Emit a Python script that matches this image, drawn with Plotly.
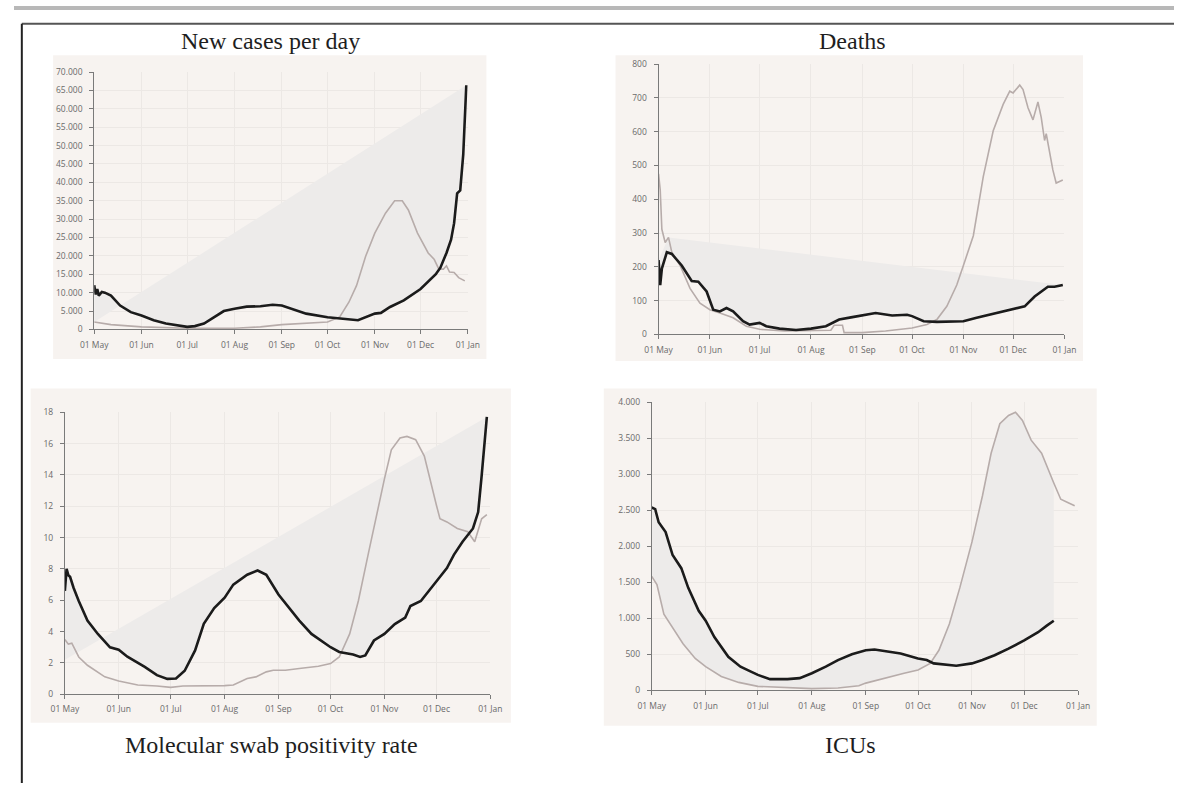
import plotly.graph_objects as go

W, H = 1186, 788

# ---------------- data ----------------
# Panel 1: New cases per day
cases_cur_dates = ["2021-05-01","2021-05-02","2021-05-03","2021-05-04","2021-05-06","2021-05-08","2021-05-12",
                   "2021-05-18","2021-05-25","2021-06-01","2021-06-09","2021-06-17","2021-07-01","2021-07-06",
                   "2021-07-12","2021-07-19","2021-07-25","2021-08-01","2021-08-09","2021-08-18","2021-08-26",
                   "2021-09-01","2021-09-09","2021-09-17","2021-10-01","2021-10-09","2021-10-17","2021-10-21",
                   "2021-11-01","2021-11-05","2021-11-11","2021-11-20","2021-12-01","2021-12-08","2021-12-11",
                   "2021-12-14","2021-12-18","2021-12-21","2021-12-23","2021-12-25","2021-12-27","2021-12-29",
                   "2021-12-31"]
cases_cur = [12000, 9500, 11000, 9200, 10200, 10000, 9200,
             6500, 4700, 3800, 2500, 1600, 700, 900,
             1600, 3400, 5000, 5600, 6200, 6300, 6700,
             6500, 5300, 4300, 3300, 2900, 2500, 2500,
             4300, 4500, 6100, 7900, 11000, 13700, 15000,
             16800, 20800, 24400, 28900, 37000, 37800, 47600,
             66400]
cases_prev_dates = ["2021-05-01","2021-05-12","2021-06-01","2021-07-01","2021-08-01","2021-08-18","2021-09-01",
                    "2021-09-17","2021-10-01","2021-10-09","2021-10-15","2021-10-20","2021-10-26","2021-11-01",
                    "2021-11-08","2021-11-14","2021-11-19","2021-11-23","2021-11-29","2021-12-06","2021-12-10",
                    "2021-12-13","2021-12-16","2021-12-18","2021-12-20","2021-12-23","2021-12-26","2021-12-30"]
cases_prev = [2000, 1300, 700, 300, 300, 700, 1300,
              1600, 2000, 3400, 7400, 11900, 19900, 26200,
              31600, 35000, 35000, 32500, 26200, 20800, 19000,
              16400, 16400, 17300, 15600, 15500, 14100, 13200]
cases_fill_anchor = ("2021-05-01", 2000)

# Panel 2: Deaths
deaths_cur_dates = ["2021-05-01","2021-05-02","2021-05-03","2021-05-06","2021-05-09","2021-05-15","2021-05-21",
                    "2021-05-25","2021-05-30","2021-06-03","2021-06-07","2021-06-11","2021-06-15","2021-06-21",
                    "2021-06-25","2021-07-01","2021-07-05","2021-07-13","2021-07-23","2021-08-01","2021-08-10",
                    "2021-08-18","2021-08-26","2021-09-01","2021-09-09","2021-09-19","2021-09-28","2021-10-01",
                    "2021-10-08","2021-10-16","2021-10-24","2021-11-01","2021-11-09","2021-11-17","2021-11-25",
                    "2021-12-01","2021-12-08","2021-12-14","2021-12-22","2021-12-26","2021-12-31"]
deaths_cur = [220, 146, 195, 243, 238, 204, 158,
              156, 127, 73, 68, 78, 68, 39,
              29, 34, 24, 17, 13, 17, 24,
              44, 51, 56, 63, 56, 58, 54,
              39, 37, 39, 39, 49, 58, 68,
              76, 83, 112, 141, 141, 146]
deaths_prev_dates = ["2021-05-01","2021-05-02","2021-05-03","2021-05-05","2021-05-07","2021-05-09","2021-05-14",
                     "2021-05-20","2021-05-26","2021-06-01","2021-06-07","2021-06-15","2021-06-23","2021-07-01",
                     "2021-07-16","2021-08-01","2021-08-13","2021-08-15","2021-08-20","2021-08-21","2021-09-01",
                     "2021-09-15","2021-10-01","2021-10-10","2021-10-16","2021-10-22","2021-10-28","2021-11-01",
                     "2021-11-07","2021-11-13","2021-11-19","2021-11-25","2021-11-29","2021-12-01","2021-12-03",
                     "2021-12-05","2021-12-07","2021-12-10","2021-12-13","2021-12-16","2021-12-18","2021-12-20",
                     "2021-12-21","2021-12-25","2021-12-27","2021-12-31"]
deaths_prev = [475, 428, 311, 272, 287, 243, 204,
               136, 92, 73, 63, 49, 24, 15,
               10, 10, 12, 27, 27, 5, 5,
               10, 19, 29, 44, 83, 146, 204,
               292, 467, 603, 681, 720, 715, 725,
               738, 725, 671, 635, 688, 642, 574,
               594, 487, 448, 457]
deaths_fill_anchor = ("2021-05-07", 287)

# Panel 3: Molecular swab positivity rate
pos_cur_dates = ["2021-05-01","2021-05-02","2021-05-03","2021-05-04","2021-05-06","2021-05-09","2021-05-14",
                 "2021-05-20","2021-05-27","2021-06-01","2021-06-06","2021-06-16","2021-06-23","2021-06-29",
                 "2021-07-04","2021-07-09","2021-07-15","2021-07-20","2021-07-26","2021-08-01","2021-08-06",
                 "2021-08-14","2021-08-20","2021-08-25","2021-09-01","2021-09-07","2021-09-13","2021-09-20",
                 "2021-10-01","2021-10-06","2021-10-14","2021-10-18","2021-10-21","2021-10-26","2021-11-01",
                 "2021-11-07","2021-11-13","2021-11-16","2021-11-22","2021-12-01","2021-12-07","2021-12-11",
                 "2021-12-16","2021-12-22","2021-12-25","2021-12-27","2021-12-30"]
pos_cur = [6.6, 8.0, 7.6, 7.5, 6.8, 5.95, 4.7,
           3.85, 3.0, 2.84, 2.4, 1.75, 1.22, 0.98,
           1.0, 1.5, 2.8, 4.5, 5.5, 6.16, 7.0,
           7.63, 7.9, 7.63, 6.37, 5.5, 4.7, 3.85,
           3.0, 2.7, 2.54, 2.38, 2.48, 3.43, 3.85,
           4.48, 4.9, 5.63, 5.95, 7.21, 8.05, 8.9,
           9.73, 10.58, 11.63, 13.94, 17.7]
pos_prev_dates = ["2021-05-01","2021-05-03","2021-05-05","2021-05-09","2021-05-14","2021-05-24","2021-06-01",
                  "2021-06-12","2021-06-23","2021-07-01","2021-07-08","2021-07-23","2021-08-01","2021-08-06",
                  "2021-08-14","2021-08-19","2021-08-25","2021-08-29","2021-09-05","2021-09-13","2021-09-24",
                  "2021-10-01","2021-10-06","2021-10-12","2021-10-17","2021-10-23","2021-10-27","2021-11-01",
                  "2021-11-05","2021-11-10","2021-11-14","2021-11-19","2021-11-24","2021-11-28","2021-12-01",
                  "2021-12-03","2021-12-07","2021-12-13","2021-12-19","2021-12-23","2021-12-27","2021-12-30"]
pos_prev = [3.5, 3.2, 3.26, 2.38, 1.85, 1.11, 0.84,
            0.59, 0.53, 0.44, 0.53, 0.53, 0.55, 0.59,
            1.0, 1.11, 1.43, 1.53, 1.53, 1.64, 1.79,
            1.96, 2.38, 3.85, 5.95, 9.1, 11.2, 13.73,
            15.6, 16.36, 16.46, 16.25, 15.2, 13.3, 12.05,
            11.2, 11.0, 10.58, 10.37, 9.73, 11.2, 11.46]
pos_fill_anchor = ("2021-05-01", 2.2)

# Panel 4: ICUs
icu_cur_dates = ["2021-05-01","2021-05-03","2021-05-05","2021-05-09","2021-05-13","2021-05-18","2021-05-22",
                 "2021-05-28","2021-06-01","2021-06-06","2021-06-14","2021-06-21","2021-06-27","2021-07-01",
                 "2021-07-08","2021-07-18","2021-07-25","2021-08-01","2021-08-09","2021-08-16","2021-08-24",
                 "2021-09-01","2021-09-06","2021-09-12","2021-09-21","2021-10-01","2021-10-06","2021-10-10",
                 "2021-10-15","2021-10-23","2021-11-01","2021-11-07","2021-11-14","2021-11-22","2021-12-01",
                 "2021-12-09","2021-12-14","2021-12-18"]
icu_cur = [2540, 2518, 2335, 2198, 1879, 1697, 1423,
           1104, 967, 739, 465, 328, 260, 214,
           155, 155, 169, 237, 328, 420, 502,
           556, 566, 547, 511, 442, 420, 374,
           360, 342, 374, 420, 488, 579, 693,
           807, 898, 967]
icu_prev_dates = ["2021-05-01","2021-05-04","2021-05-08","2021-05-13","2021-05-19","2021-05-26","2021-06-01",
                  "2021-06-10","2021-06-20","2021-07-01","2021-07-18","2021-08-01","2021-08-16","2021-08-28",
                  "2021-09-01","2021-09-08","2021-09-16","2021-09-23","2021-10-01","2021-10-08","2021-10-13",
                  "2021-10-19","2021-10-25","2021-11-01","2021-11-07","2021-11-12","2021-11-17","2021-11-22",
                  "2021-11-26","2021-11-30","2021-12-05","2021-12-11","2021-12-18","2021-12-22","2021-12-26",
                  "2021-12-30"]
icu_prev = [1583, 1469, 1058, 876, 648, 442, 328,
            192, 110, 55, 32, 23, 32, 64,
            100, 146, 201, 237, 283, 374, 556,
            921, 1423, 2062, 2700, 3293, 3704, 3818,
            3863, 3749, 3475, 3293, 2880, 2654, 2609,
            2563]

titles = ["New cases per day", "Deaths", "Molecular swab positivity rate", "ICUs"]

# ---------------- figure ----------------
BG = "#f7f3f0"
FILL = "#edebea"
BLACK = "#1b1b1b"
GRAY = "#b7acaa"
GRID = "#ece8e5"
AX = "#7a7a7a"

def fx(px):
    return px / W

def fy(py):
    return 1 - py / H

panels = [
    dict(n="", xdom=(82, 464), ydom=(67, 328), yrange=[0, 70000], dtick=5000, box=(40, 50, 483, 358),
         title_xy=(262, 36)),
    dict(n="2", xdom=(659, 1074), ydom=(59, 333), yrange=[0, 800], dtick=100, box=(615, 50, 1093, 360),
         title_xy=(857, 36)),
    dict(n="3", xdom=(52, 487), ydom=(412, 698), yrange=[0, 18], dtick=2, box=(17, 388, 508, 727),
         title_xy=(263, 749)),
    dict(n="4", xdom=(652, 1088), ydom=(402, 694), yrange=[0, 4000], dtick=500, box=(603, 388, 1107, 730),
         title_xy=(855, 749)),
]

series = [
    (cases_cur_dates, cases_cur, cases_prev_dates, cases_prev, cases_fill_anchor),
    (deaths_cur_dates, deaths_cur, deaths_prev_dates, deaths_prev, deaths_fill_anchor),
    (pos_cur_dates, pos_cur, pos_prev_dates, pos_prev, pos_fill_anchor),
    (icu_cur_dates, icu_cur, icu_prev_dates, icu_prev, None),
]

fig = go.Figure()
shapes = []
annotations = []
layout_axes = {}

for p, (cd, cv, pd_, pv, anchor) in zip(panels, series):
    xa = "x" + p["n"]
    ya = "y" + p["n"]
    if anchor is not None:
        fxs = list(cd) + [anchor[0]]
        fys = list(cv) + [anchor[1]]
    else:
        last = cd[-1]
        sub = [(d, v) for d, v in zip(pd_, pv) if d <= last]
        fxs = list(cd) + [d for d, v in reversed(sub)]
        fys = list(cv) + [v for d, v in reversed(sub)]
    fig.add_trace(go.Scatter(x=fxs, y=fys, mode="lines", fill="toself", fillcolor=FILL,
                             line=dict(width=0, color=FILL), xaxis=xa, yaxis=ya,
                             hoverinfo="skip", showlegend=False))
    fig.add_trace(go.Scatter(x=pd_, y=pv, mode="lines", line=dict(color=GRAY, width=1.6),
                             xaxis=xa, yaxis=ya, showlegend=False))
    fig.add_trace(go.Scatter(x=cd, y=cv, mode="lines", line=dict(color=BLACK, width=2.6),
                             xaxis=xa, yaxis=ya, showlegend=False))

    x0, y0, x1, y1 = p["box"]
    shapes.append(dict(type="rect", xref="paper", yref="paper", x0=fx(x0), x1=fx(x1), y0=fy(y1), y1=fy(y0),
                       fillcolor=BG, line=dict(width=0), layer="below"))

    xkey = "xaxis" + p["n"]
    ykey = "yaxis" + p["n"]
    layout_axes[xkey] = dict(
        domain=[fx(p["xdom"][0]), fx(p["xdom"][1])], anchor=ya, type="date",
        range=["2021-05-01", "2022-01-01"], tick0="2021-05-01", dtick="M1", tickformat="%d %b",
        showgrid=True, gridcolor=GRID, gridwidth=1, showline=True, linecolor=AX, linewidth=1,
        ticks="outside", ticklen=4, tickcolor=AX, zeroline=False, ticklabelstandoff=3,
        tickfont=dict(family="Open Sans", size=8.5, color="#6a6a6a"), fixedrange=True)
    layout_axes[ykey] = dict(
        domain=[fy(p["ydom"][1]), fy(p["ydom"][0])], anchor=xa, range=p["yrange"], tick0=0,
        dtick=p["dtick"], tickformat=",d", separatethousands=True,
        showgrid=True, gridcolor=GRID, gridwidth=1, showline=True, linecolor=AX, linewidth=1,
        ticks="outside", ticklen=4, tickcolor=AX, zeroline=False, ticklabelstandoff=5,
        tickfont=dict(family="Open Sans", size=8.5, color="#6a6a6a"), fixedrange=True)

for p, t in zip(panels, titles):
    tx, ty = p["title_xy"]
    annotations.append(dict(text=t, xref="paper", yref="paper", x=fx(tx), y=fy(ty),
                            xanchor="center", yanchor="middle", showarrow=False,
                            font=dict(family="Liberation Serif", size=24, color="#1e1e1e")))

# page frame
shapes.append(dict(type="rect", xref="paper", yref="paper", x0=0, x1=1, y0=fy(4), y1=1,
                   fillcolor="#b8b8b8", line=dict(width=0), layer="above"))
shapes.append(dict(type="line", xref="paper", yref="paper", x0=fx(8), x1=1, y0=fy(18), y1=fy(18),
                   line=dict(color="#555555", width=2), layer="above"))
shapes.append(dict(type="line", xref="paper", yref="paper", x0=fx(8), x1=fx(8), y0=0, y1=fy(18),
                   line=dict(color="#222222", width=2), layer="above"))

fig.update_layout(
    width=W, height=H, margin=dict(l=0, r=0, t=0, b=0),
    paper_bgcolor="white", plot_bgcolor="rgba(0,0,0,0)",
    separators=",.", showlegend=False, shapes=shapes, annotations=annotations,
    **layout_axes)

post = (
    "document.documentElement.style.margin='0';"
    "document.body.style.margin='0';"
    "document.body.style.padding='0';"
    "document.body.style.overflow='hidden';"
    "var gd=document.getElementById('{plot_id}');"
    "var w=window.innerWidth, h=window.innerHeight;"
    "if(w>300 && h>200 && (w!==gd._fullLayout.width || h!==gd._fullLayout.height)){"
    "Plotly.relayout(gd,{width:w,height:h});}"
)

fig.write_html("out.html", config={"displayModeBar": False}, post_script=post)
